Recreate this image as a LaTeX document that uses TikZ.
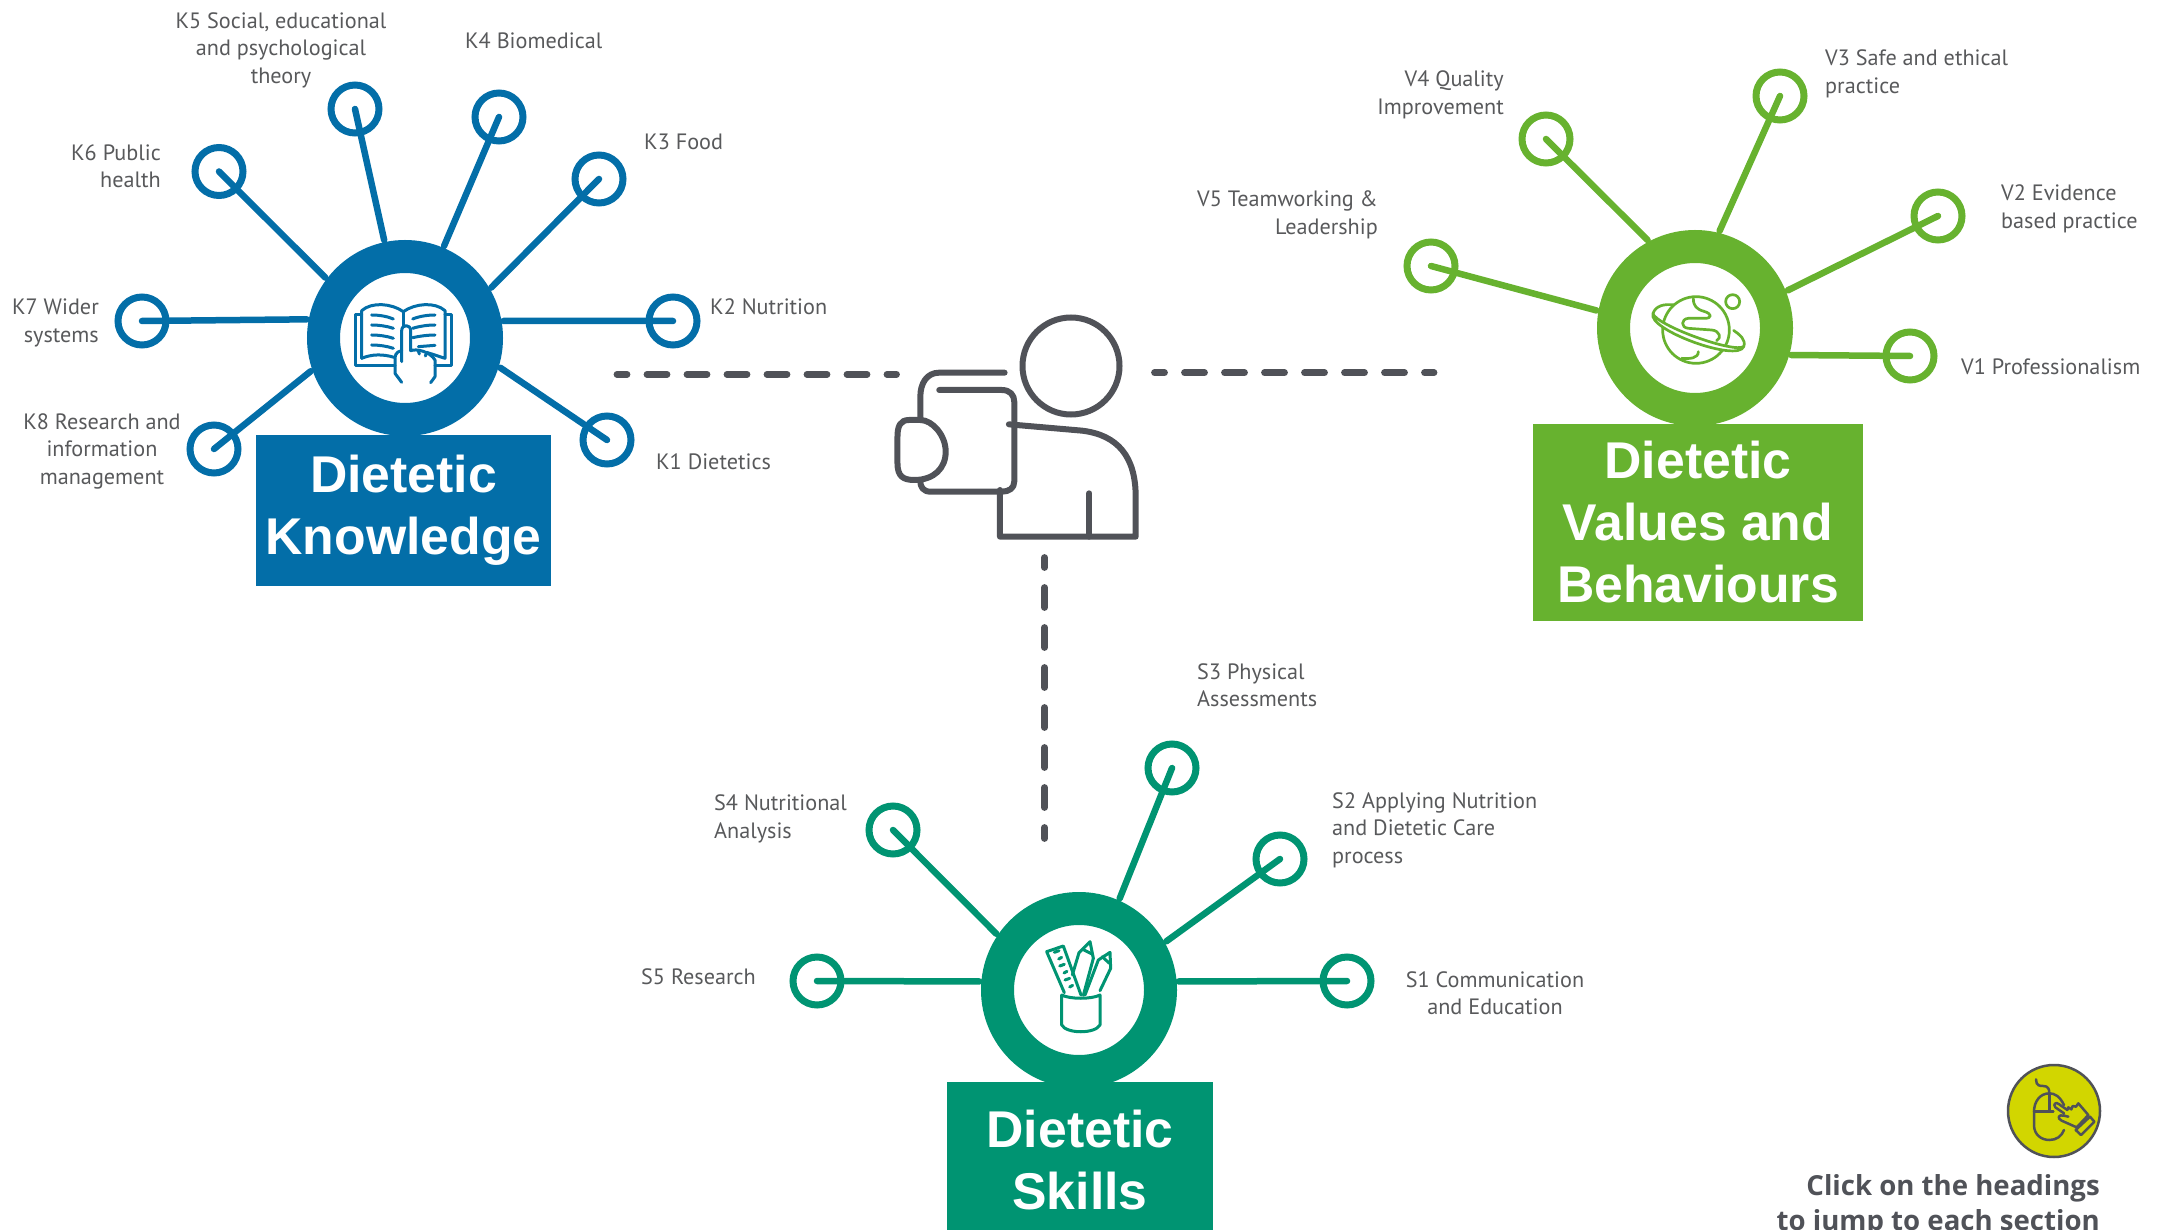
\documentclass[tikz,border=0pt]{standalone}
\usepackage{fontspec}
\setmainfont{PT Sans}
\newfontfamily\titlefont{Liberation Sans}
\newfontfamily\clickfont{Open Sans}
\definecolor{kblue}{HTML}{036EA8}
\definecolor{vgreen}{HTML}{67B22F}
\definecolor{steal}{HTML}{009472}
\definecolor{ink}{HTML}{505258}
\definecolor{lab}{HTML}{58595B}
\definecolor{lime}{HTML}{D2D600}
\tikzset{
  hubnode/.style={circle,draw=#1,fill=white,line width=33pt,minimum size=163pt,inner sep=0pt},
  leafnode/.style={circle,draw=#1,fill=none,line width=7pt,minimum size=48pt,inner sep=0pt},
  spoke/.style={draw=#1,line width=6.5pt,line cap=round,shorten >=2pt},
  titlebox/.style={fill=#1,text=white,inner sep=0pt,align=center,
     font=\titlefont\bfseries\fontsize{51.7}{62}\selectfont},
  lbl/.style={text=lab,inner sep=0pt,font=\fontsize{22.2}{27.5}\selectfont},
  lblL/.style={lbl,anchor=west,align=left},
  lblR/.style={lbl,anchor=east,align=right},
  lblC/.style={lbl,anchor=center,align=center},
  dashline/.style={draw=ink,line width=6.8pt,line cap=round,dash pattern=on 20pt off 20pt,dash phase=10pt},
  icon/.style={line width=#1,line cap=round,line join=round},
  figline/.style={draw=ink,line width=6pt,line cap=round,line join=round}
}
\begin{document}
\begin{tikzpicture}[x=1pt,y=-1pt]
\useasboundingbox (0,0) rectangle (2158,1230);
% hubs
\node[hubnode=kblue] (hubK) at (405,338) {};
\node[hubnode=vgreen] (hubV) at (1695,328) {};
\node[hubnode=steal] (hubS) at (1079,990) {};
% leaves K
\node[leafnode=kblue] (K1) at (607,440) {};
\node[leafnode=kblue] (K2) at (673,321) {};
\node[leafnode=kblue] (K3) at (599,179) {};
\node[leafnode=kblue] (K4) at (499,117) {};
\node[leafnode=kblue] (K5) at (355,109) {};
\node[leafnode=kblue] (K6) at (219,171.5) {};
\node[leafnode=kblue] (K7) at (142,321) {};
\node[leafnode=kblue] (K8) at (214,449) {};
\foreach \n/\a in {K1/-17,K2/10.6,K3/30,K4/67,K5/102,K6/143,K7/169,K8/199}
  \draw[spoke=kblue] (\n.center) -- (hubK.\a);
% leaves V
\node[leafnode=vgreen] (V1) at (1910,356) {};
\node[leafnode=vgreen] (V2) at (1938,216) {};
\node[leafnode=vgreen] (V3) at (1780,96) {};
\node[leafnode=vgreen] (V4) at (1546,139) {};
\node[leafnode=vgreen] (V5) at (1431,266) {};
\foreach \n/\a in {V1/-16,V2/22.7,V3/76,V4/118,V5/170}
  \draw[spoke=vgreen] (\n.center) -- (hubV.\a);
% leaves S
\node[leafnode=steal] (S1) at (1347,981) {};
\node[leafnode=steal] (S2) at (1280,859) {};
\node[leafnode=steal] (S3) at (1172,768) {};
\node[leafnode=steal] (S4) at (893,830) {};
\node[leafnode=steal] (S5) at (817,981) {};
\foreach \n/\a in {S1/5,S2/29,S3/66,S4/146,S5/175}
  \draw[spoke=steal] (\n.center) -- (hubS.\a);
% titles
\node[titlebox=kblue,minimum width=295pt,minimum height=151pt] (tK) at (403.5,510.5) {Dietetic\\Knowledge};
\node[titlebox=vgreen,minimum width=330pt,minimum height=197pt] (tV) at (1698,522.5) {Dietetic\\Values and\\Behaviours};
\node[titlebox=steal,minimum width=266pt,minimum height=156pt] (tS) at (1080,1160) {Dietetic\\Skills};
% labels
\node[lblL] (lK1) at (656,462) {K1 Dietetics};
\node[lblL] (lK2) at (710,307) {K2 Nutrition};
\node[lblL] (lK3) at (644,142) {K3 Food};
\node[lblL] (lK4) at (465,41) {K4 Biomedical};
\node[lblC] (lK5) at (281,50) {K5 Social, educational\\and psychological\\theory};
\node[lblR] (lK6) at (161,166) {K6 Public\\health};
\node[lblR] (lK7) at (99,323) {K7 Wider\\systems};
\node[lblC] (lK8) at (102,451) {K8 Research and\\information\\management};
\node[lblL] (lV1) at (1961,367) {V1 Professionalism};
\node[lblL] (lV2) at (2001,209) {V2 Evidence\\based practice};
\node[lblL] (lV3) at (1825,74) {V3 Safe and ethical\\practice};
\node[lblR] (lV4) at (1504,95) {V4 Quality\\Improvement};
\node[lblR] (lV5) at (1378,215) {V5 Teamworking \&\\Leadership};
\node[lblC] (lS1) at (1495,993) {S1 Communication\\and Education};
\node[lblL] (lS2) at (1332,830) {S2 Applying Nutrition\\and Dietetic Care\\process};
\node[lblL] (lS3) at (1197,685) {S3 Physical\\Assessments};
\node[lblL] (lS4) at (714,819) {S4 Nutritional\\Analysis};
\node[lblL] (lS5) at (641,977) {S5 Research};
% dashed connectors
\coordinate (dL1) at (617,374.3);
\coordinate (dL2) at (896.5,374.3);
\coordinate (dR1) at (1154.5,372.7);
\coordinate (dR2) at (1434,372.7);
\coordinate (dB1) at (1044.5,557.5);
\coordinate (dB2) at (1044.5,838.5);
\draw[dashline] (dL1) -- (dL2);
\draw[dashline] (dR1) -- (dR2);
\draw[dashline] (dB1) -- (dB2);
% person figure
\node[circle,draw=ink,line width=6pt,minimum size=97pt,inner sep=0pt] (head) at (1071,366) {};
\begin{scope}[shift={(600,300)},xscale=1/2.8,yscale=1/3]
\draw[figline] (1133,218) -- (950,218) .. controls (915,218) and (897,250) .. (897,290) -- (897,355);
\draw[figline] (950,270) -- (1125,270) .. controls (1148,270) and (1160,285) .. (1160,305) -- (1160,545) .. controls (1160,565) and (1145,575) .. (1125,575) -- (925,575) .. controls (905,575) and (897,560) .. (897,545);
\draw[figline] (897,360) -- (865,360) .. controls (840,360) and (833,380) .. (833,410) -- (833,490) .. controls (833,530) and (850,540) .. (880,540) .. controls (935,540) and (968,505) .. (968,455) .. controls (968,405) and (930,360) .. (897,360);
\draw[figline] (1145,373) -- (1350,392) .. controls (1450,405) and (1500,470) .. (1500,590) -- (1500,710) -- (1120,710) -- (1120,570);
\draw[figline] (1370,580) -- (1370,710);
\end{scope}
% book icon
\begin{scope}[shift={(280,220)},scale=1/3,draw=kblue,icon=3pt]
\draw (245,415) -- (245,272) .. controls (275,245) and (335,250) .. (370,275) .. controls (405,250) and (465,245) .. (495,272) -- (495,415) -- (440,397);
\draw (245,415) .. controls (275,402) and (310,402) .. (342,412);
\draw (370,275) -- (370,320);
\draw (245,285) -- (225,285) -- (225,437) -- (345,437);
\draw (495,285) -- (515,285) -- (515,437) -- (465,437);
\foreach \y/\d in {285/12,315/10,345/10,375/10}
  \draw (275,\y) .. controls (295,\y) and (320,\y+3) .. (340,\y+\d);
\foreach \y/\d in {285/12,315/10,345/8}
  \draw (465,\y) .. controls (445,\y) and (420,\y+3) .. (398,\y+\d);
\draw (465,376) -- (415,380);
\draw (365,425) -- (365,332) .. controls (365,312) and (392,312) .. (392,332) -- (392,392) .. controls (410,385) and (450,395) .. (465,420) -- (465,470) -- (452,488);
\draw (365,392) .. controls (345,395) and (345,410) .. (345,420) -- (345,460) -- (365,487);
\draw (415,392) -- (418,402) (440,398) -- (436,408);
\end{scope}
% planet icon
\begin{scope}[shift={(1610,270)},scale=1/3,draw=vgreen,icon=2.7pt]
\begin{scope}[shift={(265,180)},rotate=-20]
\draw (-145,0) .. controls (-145,-50) and (-60,-55) .. (0,-50);
\draw (145,0) .. controls (145,-22) and (120,-30) .. (100,-35);
\end{scope}
\draw[fill=white] (258,180) circle [radius=100];
\draw[fill=white,draw=vgreen] (368,95) circle [radius=21];
\draw (250,86) .. controls (250,108) and (260,118) .. (282,124) .. controls (308,132) and (305,145) .. (285,145) -- (235,145) .. controls (212,147) and (212,173) .. (235,175) -- (305,180) .. controls (330,182) and (335,205) .. (320,212);
\draw (215,265) .. controls (240,267) and (265,265) .. (265,245);
\begin{scope}[shift={(265,180)},rotate=-20]
\draw[fill=white] (-145,0) .. controls (-145,52) and (145,52) .. (145,0) .. controls (125,30) and (-125,30) .. (-145,0);
\end{scope}
\end{scope}
% pencil icon
\begin{scope}[shift={(1010,920)},scale=1/3,draw=steal,icon=3pt]
\draw (155,225) -- (155,315) .. controls (170,342) and (255,342) .. (270,315) -- (270,225) .. controls (245,238) and (180,238) .. (155,225);
\draw (163,218) -- (110,95) -- (160,78) -- (213,225);
\foreach \x/\y/\l in {147/92/14,155/112/9,163/133/14,171/154/9,179/175/14,188/196/9}
  \draw (\x,\y) -- ++(-\l,5);
\draw (220,226) -- (250,115) -- (240,65) -- (207,98) -- (187,165);
\draw (222,90) -- (248,103);
\draw (225,225) -- (265,120) -- (300,97) -- (302,145) -- (270,212);
\draw (277,110) -- (298,130);
\end{scope}
% click badge
\node[circle,draw=ink,fill=lime,line width=2.5pt,minimum size=92pt,inner sep=0pt] (badge) at (2054,1111) {};
\begin{scope}[shift={(1760,1050)},scale=1/3,draw=ink,icon=2.5pt]
\draw (828,88) .. controls (828,108) and (840,108) .. (850,108) .. controls (865,108) and (868,118) .. (868,130);
\draw (912,165) .. controls (900,140) and (885,130) .. (868,130) .. controls (840,130) and (822,155) .. (822,185) -- (822,225) .. controls (822,255) and (845,270) .. (868,270) .. controls (890,270) and (905,258) .. (912,240);
\draw (822,185) -- (880,185) (868,130) -- (868,185);
\draw (912,190) -- (886,172) .. controls (878,162) and (888,155) .. (896,162) -- (922,180) -- (925,172) -- (934,178) -- (938,168) -- (948,170) -- (955,160) -- (985,195) -- (950,232) -- (905,212) .. controls (890,205) and (895,192) .. (912,197) -- (925,200);
\draw (947,240) -- (990,200) -- (1003,215) -- (963,255) -- cycle;
\end{scope}
\node[anchor=base east,inner sep=0pt,text=ink,font=\clickfont\bfseries\fontsize{27.6}{35}\selectfont] (click) at (2100,1195) {Click on the headings};
\node[anchor=base east,inner sep=0pt,text=ink,font=\clickfont\bfseries\fontsize{27.6}{35}\selectfont] (click2) at (2100,1230) {to jump to each section};
\end{tikzpicture}
\end{document}
